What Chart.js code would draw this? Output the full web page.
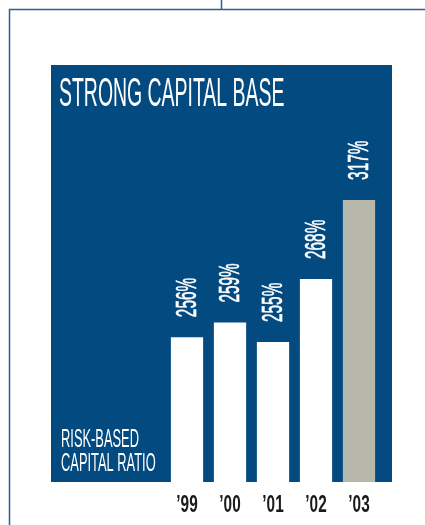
<!DOCTYPE html>
<html>
<head>
<meta charset="utf-8">
<script src="https://cdn.jsdelivr.net/npm/chart.js@4/dist/chart.umd.min.js"></script>
<style>
  html, body { margin: 0; padding: 0; background: #fff; }
  #wrap { width: 425px; height: 525px; }
</style>
</head>
<body>
<div id="wrap"><canvas id="capitalChart"></canvas></div>
<script>
/* ─── Data ─── */
const years = ['\u201999', '\u201900', '\u201901', '\u201902', '\u201903'];
const ratios = [256, 259, 255, 268, 317];
const title = 'STRONG CAPITAL BASE';
const subtitle = ['RISK-BASED', 'CAPITAL RATIO'];

/* ─── Colours ─── */
const NAVY = '#034a80';
const FRAME = '#2f5f8f';
const GREY = '#b7b7ac';

/* ─── Scale: the printed chart compresses values above the break ─── */
const BREAK = 268;
const SQUASH = 1 / 3;
function squash(v) {
  return v <= BREAK ? v : BREAK + (v - BREAK) * SQUASH;
}

class BrokenScale extends Chart.LinearScale {
  static id = 'broken';
  static defaults = Chart.LinearScale.defaults;
  getPixelForValue(value) {
    return super.getPixelForValue(value === null ? null : squash(value));
  }
}
Chart.register(BrokenScale);

/* ─── Condensed text helper ─── */
function condensed(ctx, text, x, y, font, sx, color, align) {
  ctx.save();
  ctx.font = font + ' "Liberation Sans", Arial, sans-serif';
  ctx.fillStyle = color;
  ctx.textBaseline = 'alphabetic';
  const w = ctx.measureText(text).width * sx;
  let left = x;
  if (align === 'center') left = x - w / 2;
  ctx.translate(left, y);
  ctx.scale(sx, 1);
  ctx.fillText(text, 0, 0);
  ctx.restore();
}

/* ─── Background panel + frame ─── */
const panelPlugin = {
  id: 'panel',
  beforeDraw(chart) {
    const ctx = chart.ctx;
    ctx.save();
    ctx.fillStyle = '#fff';
    ctx.fillRect(0, 0, chart.width, chart.height);

    ctx.strokeStyle = FRAME;
    ctx.lineWidth = 1.5;
    ctx.beginPath();
    ctx.moveTo(221.5, 0);
    ctx.lineTo(221.5, 9.5);
    ctx.moveTo(chart.width, 9.5);
    ctx.lineTo(9.5, 9.5);
    ctx.lineTo(9.5, chart.height);
    ctx.stroke();

    ctx.fillStyle = NAVY;
    ctx.fillRect(51, 65, 341, 417);
    ctx.restore();

    condensed(ctx, title, 59, 106, '40px', 0.486, '#fff');
    condensed(ctx, subtitle[0], 61, 447, '25px', 0.515, '#fff');
    condensed(ctx, subtitle[1], 61, 471, '25px', 0.515, '#fff');
  }
};

/* ─── Value labels + year labels ─── */
const labelPlugin = {
  id: 'labels',
  afterDatasetsDraw(chart) {
    const ctx = chart.ctx;
    const meta = chart.getDatasetMeta(0);
    meta.data.forEach((bar, i) => {
      // rotated percentage above each bar
      ctx.save();
      ctx.translate(bar.x - 1, bar.y - 20);
      ctx.rotate(-Math.PI / 2);
      ctx.scale(0.53, 1);
      ctx.font = '29px "Liberation Sans", Arial, sans-serif';
      ctx.fillStyle = '#fff';
      ctx.strokeStyle = '#fff';
      ctx.lineWidth = 0.6;
      ctx.textBaseline = 'alphabetic';
      ctx.fillText(ratios[i] + '%', 0, 10.4);
      ctx.strokeText(ratios[i] + '%', 0, 10.4);
      ctx.restore();

      // year below the panel
      condensed(ctx, years[i], bar.x, 512, 'bold 24px', 0.64, '#1a1a1a', 'center');
    });
  }
};

/* ─── Chart ─── */
new Chart(document.getElementById('capitalChart'), {
  type: 'bar',
  data: {
    labels: years,
    datasets: [{
      data: ratios,
      base: 226.1,
      backgroundColor: c => c.dataIndex === ratios.length - 1 ? GREY : '#ffffff',
      borderWidth: 0,
      categoryPercentage: 1,
      barPercentage: 0.75
    }]
  },
  options: {
    responsive: true,
    maintainAspectRatio: false,
    animation: false,
    layout: { padding: { left: 165.5, right: 44.5, top: 170, bottom: 43 } },
    plugins: {
      legend: { display: false },
      tooltip: { enabled: false }
    },
    scales: {
      x: { display: false, grid: { display: false } },
      y: { type: 'broken', display: false, min: 226.1, max: 290.5 }
    }
  },
  plugins: [panelPlugin, labelPlugin]
});
</script>
</body>
</html>
